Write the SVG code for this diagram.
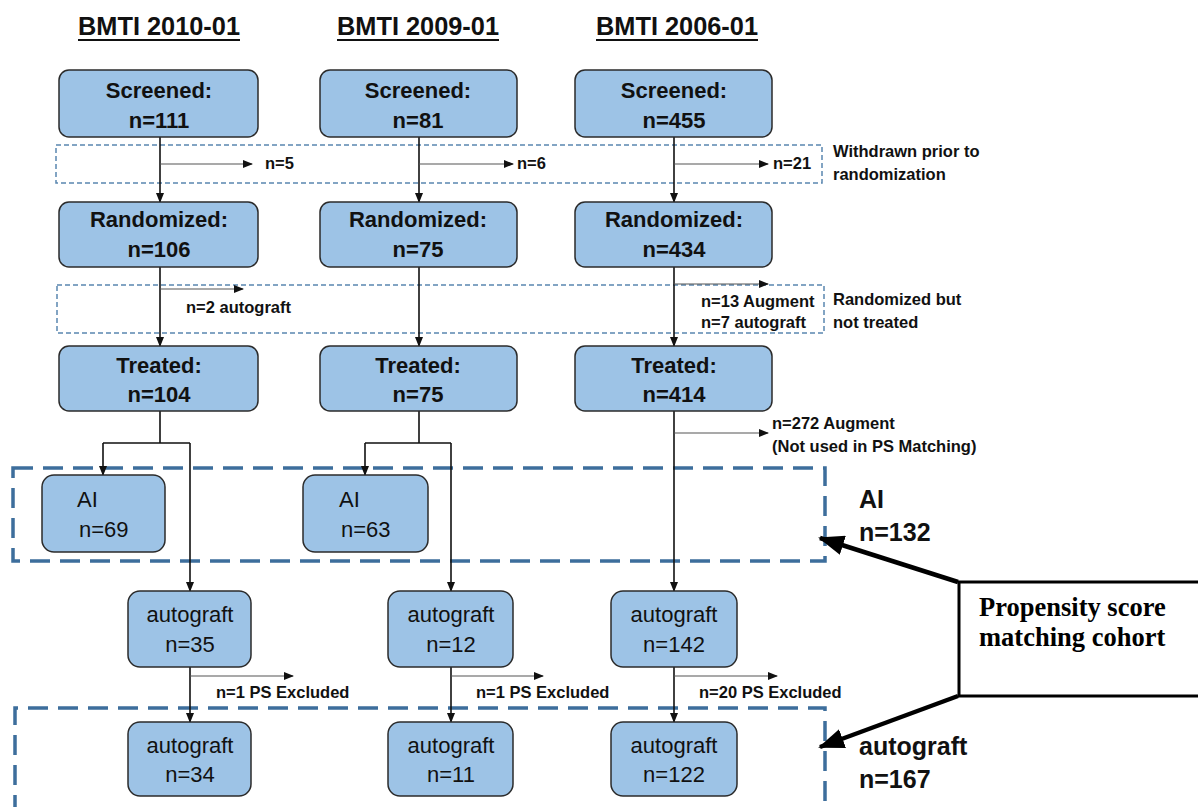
<svg xmlns="http://www.w3.org/2000/svg" width="1198" height="807" viewBox="0 0 1198 807">
<style>
.title{font-family:"Liberation Sans",Arial,sans-serif;font-weight:bold;font-size:26px;fill:#111;text-anchor:middle}
.box{fill:#9dc3e6;stroke:#2b2b2b;stroke-width:1.5}
.bt{font-family:"Liberation Sans",Arial,sans-serif;font-weight:bold;font-size:22px;fill:#111;text-anchor:middle}
.rt{font-family:"Liberation Sans",Arial,sans-serif;font-size:22px;fill:#111;text-anchor:middle}
.sm{font-family:"Liberation Sans",Arial,sans-serif;font-weight:bold;font-size:16.5px;fill:#111}
.side{font-family:"Liberation Sans",Arial,sans-serif;font-weight:bold;font-size:16.5px;fill:#111}
.big{font-family:"Liberation Sans",Arial,sans-serif;font-weight:bold;font-size:25px;fill:#111}
.thin{fill:none;stroke:#5a86b0;stroke-width:1.5;stroke-dasharray:5 3}
.thick{fill:none;stroke:#3d6e9c;stroke-width:3.5;stroke-dasharray:20 10}
.ln{fill:none;stroke:#111;stroke-width:1.6}
.sl{fill:none;stroke:#555;stroke-width:1.2}
.ps{font-family:"Liberation Serif","Times New Roman",serif;font-weight:bold;font-size:26.5px;fill:#000}
</style>
<defs>
<marker id="ah" markerUnits="userSpaceOnUse" markerWidth="10" markerHeight="8" refX="9" refY="4" orient="auto"><path d="M0,0 L10,4 L0,8 z" fill="#111"/></marker>
<marker id="bh" markerUnits="userSpaceOnUse" markerWidth="26" markerHeight="20" refX="24" refY="10" orient="auto"><path d="M0,0 L26,10 L0,20 z" fill="#000"/></marker>
</defs>
<rect width="1198" height="807" fill="#fff"/>

<g id="titles">
<text class="title" x="159" y="35" textLength="162" lengthAdjust="spacingAndGlyphs">BMTI 2010-01</text>
<line x1="78" y1="40" x2="240" y2="40" stroke="#111" stroke-width="2"/>
<text class="title" x="418" y="35" textLength="162" lengthAdjust="spacingAndGlyphs">BMTI 2009-01</text>
<line x1="337" y1="40" x2="499" y2="40" stroke="#111" stroke-width="2"/>
<text class="title" x="677" y="35" textLength="162" lengthAdjust="spacingAndGlyphs">BMTI 2006-01</text>
<line x1="596" y1="40" x2="758" y2="40" stroke="#111" stroke-width="2"/>
</g>

<g id="groups">
<rect class="thin" x="56" y="145" width="766" height="38"/>
<rect class="thin" x="57" y="285" width="767" height="48"/>
<rect class="thick" x="13" y="468" width="812" height="93"/>
<path class="thick" d="M15,815 L15,708 L825,708 L825,815"/>
</g>

<g id="connectors">
<path class="ln" d="M160,137 V202" marker-end="url(#ah)"/>
<path class="ln" d="M160,267 V346" marker-end="url(#ah)"/>
<path class="ln" d="M160,411 V443 M103,443 H190"/>
<path class="ln" d="M103,443 V475" marker-end="url(#ah)"/>
<path class="ln" d="M190,443 V591" marker-end="url(#ah)"/>
<path class="ln" d="M190,667 V722" marker-end="url(#ah)"/>
<path class="sl" d="M160,164 H252" marker-end="url(#ah)"/>
<path class="sl" d="M160,289 H243" marker-end="url(#ah)"/>
<path class="sl" d="M190,676 H293" marker-end="url(#ah)"/>

<path class="ln" d="M419,137 V202" marker-end="url(#ah)"/>
<path class="ln" d="M419,267 V346" marker-end="url(#ah)"/>
<path class="ln" d="M419,411 V443 M365,443 H451"/>
<path class="ln" d="M365,443 V475" marker-end="url(#ah)"/>
<path class="ln" d="M451,443 V591" marker-end="url(#ah)"/>
<path class="ln" d="M451,667 V722" marker-end="url(#ah)"/>
<path class="sl" d="M419,164 H513" marker-end="url(#ah)"/>
<path class="sl" d="M451,676 H543" marker-end="url(#ah)"/>

<path class="ln" d="M674,137 V202" marker-end="url(#ah)"/>
<path class="ln" d="M674,267 V346" marker-end="url(#ah)"/>
<path class="ln" d="M674,411 V591" marker-end="url(#ah)"/>
<path class="ln" d="M674,667 V722" marker-end="url(#ah)"/>
<path class="sl" d="M674,164 H768" marker-end="url(#ah)"/>
<path class="sl" d="M674,284 H768" marker-end="url(#ah)"/>
<path class="sl" d="M674,433 H768" marker-end="url(#ah)"/>
<path class="sl" d="M674,676 H777" marker-end="url(#ah)"/>

<path d="M958,582 L820,538" stroke="#000" stroke-width="4.5" fill="none" marker-end="url(#bh)"/>
<path d="M958,696 L820,747" stroke="#000" stroke-width="4.5" fill="none" marker-end="url(#bh)"/>
</g>

<g id="edge-labels">
<text class="sm" x="265" y="169">n=5</text>
<text class="sm" x="517" y="169">n=6</text>
<text class="sm" x="773" y="169">n=21</text>
<text class="sm" x="186" y="313">n=2 autograft</text>
<text class="sm" x="701" y="307">n=13 Augment</text>
<text class="sm" x="701" y="328">n=7 autograft</text>
<text class="sm" x="772" y="429">n=272 Augment</text>
<text class="sm" x="772" y="452">(Not used in PS Matching)</text>
<text class="sm" x="216" y="698">n=1 PS Excluded</text>
<text class="sm" x="476" y="698">n=1 PS Excluded</text>
<text class="sm" x="699" y="698">n=20 PS Excluded</text>
<text class="side" x="833" y="157">Withdrawn prior to</text>
<text class="side" x="833" y="180">randomization</text>
<text class="side" x="833" y="305">Randomized but</text>
<text class="side" x="833" y="328">not treated</text>
</g>

<g id="screened-1"><rect class="box" x="59" y="70" width="199" height="67" rx="10"/><text class="bt" x="159" y="98">Screened:</text><text class="bt" x="159" y="128">n=111</text></g>
<g id="screened-2"><rect class="box" x="320" y="70" width="197" height="67" rx="10"/><text class="bt" x="418" y="98">Screened:</text><text class="bt" x="418" y="128">n=81</text></g>
<g id="screened-3"><rect class="box" x="575" y="70" width="197" height="67" rx="10"/><text class="bt" x="674" y="98">Screened:</text><text class="bt" x="674" y="128">n=455</text></g>

<g id="randomized-1"><rect class="box" x="59" y="202" width="199" height="65" rx="10"/><text class="bt" x="159" y="227">Randomized:</text><text class="bt" x="159" y="257">n=106</text></g>
<g id="randomized-2"><rect class="box" x="320" y="202" width="197" height="65" rx="10"/><text class="bt" x="418" y="227">Randomized:</text><text class="bt" x="418" y="257">n=75</text></g>
<g id="randomized-3"><rect class="box" x="575" y="202" width="197" height="65" rx="10"/><text class="bt" x="674" y="227">Randomized:</text><text class="bt" x="674" y="257">n=434</text></g>

<g id="treated-1"><rect class="box" x="59" y="346" width="199" height="65" rx="10"/><text class="bt" x="159" y="373">Treated:</text><text class="bt" x="159" y="402">n=104</text></g>
<g id="treated-2"><rect class="box" x="320" y="346" width="197" height="65" rx="10"/><text class="bt" x="418" y="373">Treated:</text><text class="bt" x="418" y="402">n=75</text></g>
<g id="treated-3"><rect class="box" x="575" y="346" width="197" height="65" rx="10"/><text class="bt" x="674" y="373">Treated:</text><text class="bt" x="674" y="402">n=414</text></g>

<g id="ai-1"><rect class="box" x="42" y="475" width="123" height="77" rx="12"/><text class="rt" x="77" y="507" style="text-anchor:start">AI</text><text class="rt" x="79" y="537" style="text-anchor:start">n=69</text></g>
<g id="ai-2"><rect class="box" x="303" y="475" width="125" height="77" rx="12"/><text class="rt" x="339" y="507" style="text-anchor:start">AI</text><text class="rt" x="341" y="537" style="text-anchor:start">n=63</text></g>

<g id="autograft-1"><rect class="box" x="128" y="591" width="123" height="76" rx="12"/><text class="rt" x="190" y="622">autograft</text><text class="rt" x="190" y="652">n=35</text></g>
<g id="autograft-2"><rect class="box" x="388" y="591" width="125" height="76" rx="12"/><text class="rt" x="451" y="622">autograft</text><text class="rt" x="451" y="652">n=12</text></g>
<g id="autograft-3"><rect class="box" x="611" y="591" width="126" height="76" rx="12"/><text class="rt" x="674" y="622">autograft</text><text class="rt" x="674" y="652">n=142</text></g>

<g id="final-1"><rect class="box" x="128" y="722" width="123" height="74" rx="12"/><text class="rt" x="190" y="753">autograft</text><text class="rt" x="190" y="782">n=34</text></g>
<g id="final-2"><rect class="box" x="388" y="722" width="125" height="74" rx="12"/><text class="rt" x="451" y="753">autograft</text><text class="rt" x="451" y="782">n=11</text></g>
<g id="final-3"><rect class="box" x="611" y="722" width="126" height="74" rx="12"/><text class="rt" x="674" y="753">autograft</text><text class="rt" x="674" y="782">n=122</text></g>

<g id="cohort-labels">
<text class="big" x="859" y="508">AI</text>
<text class="big" x="859" y="541">n=132</text>
<text class="big" x="859" y="755">autograft</text>
<text class="big" x="859" y="788">n=167</text>
</g>

<g id="ps-box">
<rect x="959" y="582" width="245" height="114" fill="#fff" stroke="#000" stroke-width="3"/>
<text class="ps" x="979" y="616">Propensity score</text>
<text class="ps" x="979" y="646">matching cohort</text>
</g>
</svg>
